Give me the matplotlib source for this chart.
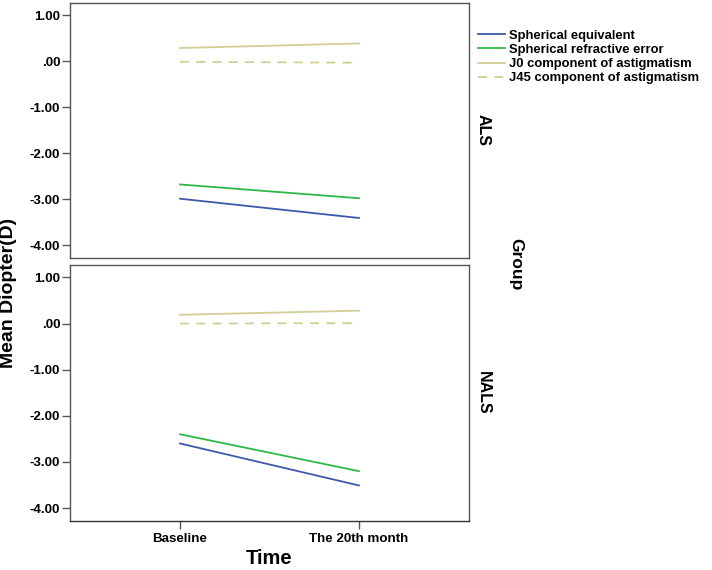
import matplotlib
matplotlib.use("Agg")
import matplotlib.pyplot as plt
from matplotlib.lines import Line2D

plt.rcParams['font.family'] = ['Liberation Sans', 'DejaVu Sans']
plt.rcParams['font.weight'] = 'bold'

time_labels = ["Baseline", "The 20th month"]
groups = ["ALS", "NALS"]
series_names = ["Spherical equivalent", "Spherical refractive error",
                "J0 component of astigmatism", "J45 component of astigmatism"]
series_colors = ["#3E58AC", "#2EB848", "#D3CE97", "#D3CE97"]
series_styles = ["-", "-", "-", (0, (5, 4))]

# values per group: [baseline, 20th month]
als_se = [-2.99, -3.41]
als_sre = [-2.68, -2.98]
als_j0 = [0.29, 0.39]
als_j45 = [-0.01, -0.03]

nals_se = [-2.60, -3.51]
nals_sre = [-2.40, -3.20]
nals_j0 = [0.19, 0.28]
nals_j45 = [0.00, 0.01]

data = {
    "ALS": [als_se, als_sre, als_j0, als_j45],
    "NALS": [nals_se, nals_sre, nals_j0, nals_j45],
}
yticks = [1, 0, -1, -2, -3, -4]
ytick_labels = ["1.00", ".00", "-1.00", "-2.00", "-3.00", "-4.00"]

W, H = 712, 570
fig = plt.figure(figsize=(W / 100, H / 100), dpi=100)

left = 70 / W
right = 469 / W
panels = [(3, 257.5), (265, 520.5)]
axes = []
x = [0, 1]
for (top_px, bot_px), g in zip(panels, groups):
    ax = fig.add_axes([left, 1 - bot_px / H, right - left, (bot_px - top_px) / H])
    for vals, c, ls in zip(data[g], series_colors, series_styles):
        ax.plot(x, vals, color=c, linestyle=ls, linewidth=1.3)
    ax.set_xlim(-0.615, 1.615)
    ax.set_ylim(-4.27, 1.27)
    ax.set_yticks(yticks)
    ax.set_yticklabels(ytick_labels)
    for s in ax.spines.values():
        s.set_color("#555555")
        s.set_linewidth(1.0)
    ax.tick_params(axis='y', length=6, width=1.0, color="#555555", pad=1,
                   labelsize=9.6)
    ax.tick_params(axis='x', length=6, width=1.0, color="#555555", pad=3,
                   labelsize=9.6)
    ax.set_xticks(x)
    ax.text(1.035, 0.5, g, transform=ax.transAxes, rotation=270,
            ha='center', va='center', fontsize=11.5, fontweight='bold')
    axes.append(ax)

axes[0].set_xticks([])
axes[1].set_xticklabels(time_labels)
axes[1].spines['bottom'].set_color("#333333")

axes[1].set_xlabel("Time", fontsize=14.5, fontweight='bold', labelpad=3)
fig.text(9 / W, 1 - 293 / H, "Mean Diopter(D)", rotation=90, ha='center',
         va='center', fontsize=14, fontweight='bold')
fig.text(516 / W, 1 - 264 / H, "Group", rotation=270, ha='center',
         va='center', fontsize=12.5, fontweight='bold')

handles = [Line2D([], [], color=c, linestyle=ls, linewidth=1.3)
           for c, ls in zip(series_colors, series_styles)]
fig.legend(handles, series_names, loc='upper left',
           bbox_to_anchor=(466 / W, 1 - 18 / H), frameon=False,
           handlelength=2.1, handletextpad=0.3, labelspacing=0.15,
           prop={'size': 9.4, 'weight': 'bold'})

fig.savefig("out.png", dpi=100)
